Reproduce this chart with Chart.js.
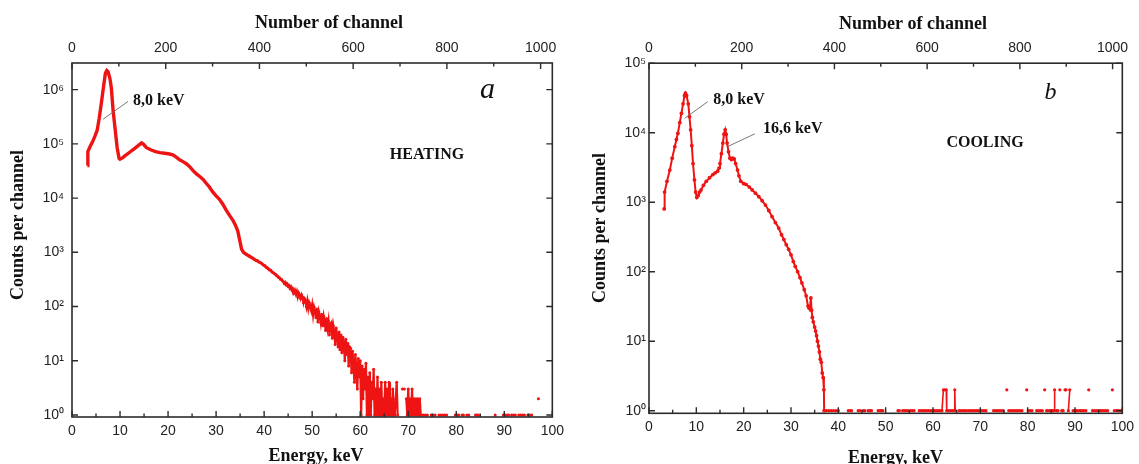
<!DOCTYPE html>
<html><head><meta charset="utf-8">
<script src="https://cdn.jsdelivr.net/npm/chart.js@4.4.1/dist/chart.umd.min.js"></script>
<style>
html,body{margin:0;padding:0;background:#fff;width:1139px;height:464px;overflow:hidden}
#wa{position:absolute;left:0;top:0;width:570px;height:464px}
#wb{position:absolute;left:570px;top:0;width:569px;height:464px}
</style></head><body>
<div id="wa"><canvas id="ca" width="570" height="464"></canvas></div>
<div id="wb"><canvas id="cb" width="569" height="464"></canvas></div>
<script>
// ---------- axis tick values / labels ----------
const energyMajor = [0,10,20,30,40,50,60,70,80,90,100];
const energyMinor = [5,15,25,35,45,55,65,75,85,95];
const channelMajor = [0,200,400,600,800,1000];
const channelMinor = [100,300,500,700,900];
const decadesA = [1,10,100,1000,10000,100000,1000000];
const decadeLabelsA = ['10\u2070','10\u00b9','10\u00b2','10\u00b3','10\u2074','10\u2075','10\u2076'];
const decadesB = [1,10,100,1000,10000,100000];
const decadeLabelsB = ['10\u2070','10\u00b9','10\u00b2','10\u00b3','10\u2074','10\u2075'];
const xTitle = 'Energy, keV';
const x2Title = 'Number of channel';
const yTitle = 'Counts per channel';

// ---------- (a) HEATING ----------
const heatSmoothE = [3.2,3.3,3.8,4.3,4.8,5.25,5.65,6.15,6.6,6.95,
  7.25,7.5,7.9,8.2,8.55,9.1,9.4,9.8,10.0,10.5,
  11.0,12.0,13.0,14.1,14.5,14.9,15.5,16.5,17.4,18.3,
  19.3,20.3,21.0,21.7,22.4,23.1,23.8,24.5,25.2,25.9,
  26.6,27.3,27.9,28.6,29.3,30.0,30.7,31.4,32.1,32.8,
  33.5,34.0,34.5,34.9,35.3,35.7,36.2,36.7,37.2,37.6,38.0];
const heatSmoothCounts = [40000,72000,90000,110000,140000,180000,290000,600000,1200000,2000000,
  2250000,2150000,1600000,1050000,420000,150000,85000,54000,52000,55000,
  60000,70000,82000,98000,104000,98000,85000,77000,72000,69000,
  67000,65000,63000,57000,51000,47000,43000,38000,32000,28000,
  25000,22000,19000,16000,13000,11000,9500,7700,6000,4800,
  3900,3200,2500,1700,1150,1000,930,870,820,780,740];
const heatTailE = [38.0,38.2,38.4,38.6,38.8,39.0,39.2,39.4,39.6,39.8,
  40.0,40.2,40.4,40.6,40.8,41.0,41.2,41.4,41.6,41.8,
  42.0,42.2,42.4,42.6,42.8,43.0,43.2,43.4,43.6,43.8,
  44.0,44.2,44.4,44.6,44.8,45.0,45.2,45.4,45.6,45.8,
  46.0,46.2,46.4,46.6,46.8,47.0,47.2,47.4,47.6,47.8,
  48.0,48.2,48.4,48.6,48.8,49.0,49.2,49.4,49.6,49.8,
  50.0,50.2,50.4,50.6,50.8,51.0,51.2,51.4,51.6,51.8,
  52.0,52.2,52.4,52.6,52.8,53.0,53.2,53.4,53.6,53.8,
  54.0,54.2,54.4,54.6,54.8,55.0,55.2,55.4,55.6,55.8,
  56.0,56.2,56.4,56.6,56.8,57.0,57.2,57.4,57.6,57.8,
  58.0,58.2,58.4,58.6,58.8,59.0,59.2,59.4,59.6,59.8,
  60.0,60.2,60.4,60.6,60.8,61.0,61.2,61.4,61.6,61.8,
  62.0,62.2,62.4,62.6,62.8,63.0,63.2,63.4,63.6,63.8,
  64.0,64.2,64.4,64.6,64.8,65.0,65.2,65.4,65.6,65.8,
  66.0,66.2,66.4,66.6,66.8,67.0,67.2,67.4,67.6,67.8,
  68.0,68.2,68.4,68.6,68.8,69.0,69.2,69.4,69.6,69.8,
  70.0,70.2,70.4,70.6,70.8,71.0,71.2,71.4,71.6,71.8,
  72.0,72.2,72.4,72.6,72.8,
  73.2,73.6,74.0,74.4,74.8,75.2,75.6,76.0,76.4,76.8,
  77.2,77.6,78.0,78.4,79.8,80.2,80.5,80.8,81.2,81.5,
  81.8,82.2,82.6,82.9,84.0,84.3,84.6,84.9,88.1,88.4,
  89.8,90.2,90.6,90.9,91.2,91.5,91.9,92.3,92.7,93.0,
  93.4,93.8,94.2,94.6,94.9,95.3,95.7,96.0,97.1];
const heatTailCounts = [740,725,700,705,670,660,640,635,610,590,
  570,565,530,525,500,490,470,465,440,425,
  415,400,395,370,365,345,340,320,318,300,
  290,265,280,250,262,235,245,215,232,205,
  212,180,200,170,192,150,178,160,140,165,
  150,118,140,130,100,128,92,118,105,85,
  108,70,98,84,62,90,52,80,66,50,
  72,44,66,52,36,60,40,54,30,46,
  50,26,44,34,20,40,28,18,34,16,
  30,14,27,20,10,25,13,21,8,18,
  17,6,15,9,4,13,7,3,11,5,
  10,1,8,2,7,3,9,1,5,1,
  6,1,4,2,7,1,3,1,5,1,
  3,1,4,1,2,1,4,1,3,1,
  4,1,2,1,3,1,1,2,4,1,
  null,null,null,null,3,null,3,null,2,1,
  3,1,2,1,3,1,2,1,2,1,
  2,1,2,1,1,
  1,1,1,null,1,1,1,null,1,1,
  1,1,1,null,1,1,1,null,1,1,
  null,1,1,null,1,1,1,null,1,null,
  1,1,1,1,null,1,1,1,null,1,
  1,1,1,null,1,1,1,null,2];

// ---------- (b) COOLING ----------
const coolE = [3.2,3.3,3.8,4.4,4.9,5.45,5.8,6.1,6.5,6.85,
  7.2,7.5,7.7,7.95,8.3,8.55,8.8,9.05,9.3,9.6,
  9.85,10.1,10.4,10.7,11.0,11.5,12.1,12.8,13.5,14.0,
  14.5,14.8,15.0,15.3,15.6,15.85,16.1,16.3,16.5,16.8,
  17.1,17.4,17.7,18.0,18.3,18.7,19.0,19.4,20.0,20.5,
  21.2,21.8,22.5,23.2,23.9,24.6,25.3,26.0,26.7,27.4,
  28.0,28.5,29.0,29.5,30.0,30.5,30.9,31.4,31.9,32.3,
  32.8,33.2,33.6,33.8,34.0,34.2,34.35,34.5,34.7,35.0,
  35.2,35.4,35.6,35.8,36.0,36.2,36.4,36.6,36.8,36.95,37.0];
const coolCounts = [800,1400,2000,2900,4300,6300,8000,9800,14000,19000,
  26000,34000,37000,34000,26000,17000,11000,6500,3600,2100,
  1400,1170,1250,1400,1500,1750,2000,2250,2500,2650,
  2800,3100,3600,5000,7100,9500,11000,9500,7100,5300,
  4300,4100,4300,4200,3600,2900,2400,2000,1850,1800,
  1650,1500,1350,1200,1050,910,760,620,510,425,
  340,290,245,210,175,140,119,100,82,69,
  55,45,32,30,30,42,28,22,19,16,
  14,12,10,8.5,7,5.5,5,3.5,3,2,1];
const coolTailE = [37.5,38.0,38.5,39.0,39.5,40.0,40.4,42.1,42.5,42.8,
  43.1,44.2,44.6,45.0,45.3,45.6,45.9,46.3,46.7,47.0,
  47.3,48.4,48.8,49.1,49.4,49.7,52.6,52.9,53.2,53.6,
  54.0,54.3,54.7,55.0,55.3,55.7,56.0,56.3,57.1,57.5,
  57.9,58.3,58.7,59.1,59.5,59.9,60.3,60.7,61.1,61.5,
  61.9,62.2,62.5,62.8,62.9,63.3,63.7,64.1,64.5,64.6,
  64.7,65.0,65.5,65.9,66.3,66.7,67.1,67.4,67.6,68.0,
  68.4,68.8,69.2,69.6,69.9,70.0,70.4,70.8,71.2,71.5,
  72.8,73.2,73.6,74.0,74.4,74.8,75.1,75.6,75.9,76.0,
  76.4,76.8,77.2,77.6,78.0,78.4,78.8,79.1,79.8,80.0,
  80.1,80.5,80.9,81.2,81.9,82.3,82.7,83.1,83.4,83.6,
  83.8,84.0,84.3,84.7,85.1,85.4,85.6,85.7,85.8,86.1,
  86.4,86.6,86.8,87.0,87.2,87.5,87.7,87.9,88.1,88.3,
  88.6,88.9,89.2,89.6,90.0,90.3,90.5,90.7,91.1,91.5,
  91.9,92.3,92.6,92.9,93.1,93.7,94.1,94.5,94.9,95.3,
  95.7,96.1,96.5,96.9,97.2,97.9,98.1,98.3,98.7,99.1,
  99.5,99.9];
const coolTailCounts = [1,1,1,1,1,1,null,1,1,1,
  null,1,1,null,1,1,null,1,1,1,
  null,1,1,1,1,null,1,1,null,1,
  1,1,1,null,1,1,1,null,1,1,
  1,1,1,1,1,1,1,1,1,1,
  1,2,2,2,1,1,1,1,1,2,
  1,null,1,1,1,1,1,null,1,1,
  1,1,1,1,null,1,1,1,1,null,
  1,1,1,1,1,1,null,2,null,1,
  1,1,1,1,1,1,1,null,2,null,
  1,1,1,null,1,1,1,1,null,2,
  null,1,1,1,1,1,1,2,null,1,
  1,null,2,null,1,1,null,2,2,null,
  1,2,null,1,1,1,null,1,1,1,
  1,1,null,2,null,1,1,1,1,1,
  1,1,1,1,null,2,null,1,1,1,
  1,1];

// ---------- helpers & styles ----------
const RED = '#ee1414';
const TICKFONT = {family:"'Liberation Sans', Arial, sans-serif", size:14};
const TICKCOL = '#222';
const TITLE_CSS = "bold 18px 'Liberation Serif', 'Times New Roman', serif";
const pts = (E, C) => E.map((e, i) => ({x: e, y: C[i]}));

const frameTicks = {
  id: 'frameTicks',
  afterDraw(chart, args, o) {
    const {ctx, chartArea: a, scales: s} = chart;
    ctx.save();
    ctx.strokeStyle = '#2b2b2b';
    ctx.lineWidth = 1.6;
    ctx.strokeRect(a.left, a.top, a.right - a.left, a.bottom - a.top);
    ctx.lineWidth = 1.4;
    ctx.beginPath();
    const seg = (x1, y1, x2, y2) => { ctx.moveTo(x1, y1); ctx.lineTo(x2, y2); };
    energyMajor.forEach(v => { const x = s.x.getPixelForValue(v); seg(x, a.bottom, x, a.bottom - 6); });
    energyMinor.forEach(v => { const x = s.x.getPixelForValue(v); seg(x, a.bottom, x, a.bottom - 3.5); });
    channelMajor.forEach(v => { const x = s.x2.getPixelForValue(v); seg(x, a.top, x, a.top + 6); });
    channelMinor.forEach(v => { const x = s.x2.getPixelForValue(v); seg(x, a.top, x, a.top + 3.5); });
    o.decades.forEach(v => { const y = s.y.getPixelForValue(v); seg(a.left, y, a.left + 6, y); seg(a.right, y, a.right - 6, y); });
    ctx.stroke();
    // leader lines
    ctx.strokeStyle = '#6a6a6a';
    ctx.lineWidth = 0.9;
    o.leaders.forEach(l => {
      ctx.beginPath();
      ctx.moveTo(s.x.getPixelForValue(l[0]), s.y.getPixelForValue(l[1]));
      ctx.lineTo(s.x.getPixelForValue(l[2]), s.y.getPixelForValue(l[3]));
      ctx.stroke();
    });
    // annotation texts
    ctx.fillStyle = '#111';
    ctx.textBaseline = 'alphabetic';
    o.labels.forEach(L => {
      ctx.font = L.font;
      ctx.textAlign = L.align;
      ctx.fillText(L.text, s.x.getPixelForValue(L.e), s.y.getPixelForValue(L.c));
    });
    // axis titles
    ctx.font = TITLE_CSS;
    ctx.textAlign = 'center';
    ctx.fillText(x2Title, o.topTitle[0], o.topTitle[1]);
    ctx.fillText(xTitle, o.bottomTitle[0], o.bottomTitle[1]);
    ctx.save();
    ctx.translate(o.leftTitle[0], o.leftTitle[1]);
    ctx.rotate(-Math.PI / 2);
    ctx.textBaseline = 'middle';
    ctx.fillText(yTitle, 0, 0);
    ctx.restore();
    ctx.restore();
  }
};

function makeChart(id, cfg) {
  return new Chart(document.getElementById(id), {
    type: 'line',
    data: {datasets: cfg.datasets},
    options: {
      responsive: false, animation: false, devicePixelRatio: 1,
      layout: {padding: {left: 0, right: cfg.padRight, top: 0, bottom: 0}},
      plugins: {legend: {display: false}, tooltip: {enabled: false}, frameTicks: cfg.frame},
      scales: {
        x: {
          type: 'linear', position: 'bottom', min: 0, max: 100,
          afterBuildTicks: sc => { sc.ticks = energyMajor.map(v => ({value: v})); },
          afterFit: sc => { sc.height = cfg.bottomH; },
          grid: {display: false, drawTicks: false}, border: {display: false},
          ticks: {padding: cfg.xPad, font: TICKFONT, color: TICKCOL, maxRotation: 0, autoSkip: false,
                  callback: v => String(v)}
        },
        x2: {
          type: 'linear', position: 'top', min: 0, max: cfg.chanMax,
          afterBuildTicks: sc => { sc.ticks = channelMajor.map(v => ({value: v})); },
          afterFit: sc => { sc.height = cfg.topH; },
          grid: {display: false, drawTicks: false}, border: {display: false},
          ticks: {padding: cfg.x2Pad, font: TICKFONT, color: TICKCOL, maxRotation: 0, autoSkip: false,
                  callback: v => String(v)}
        },
        y: {
          type: 'logarithmic', position: 'left', min: 0.918, max: cfg.yMax,
          afterBuildTicks: sc => { sc.ticks = cfg.decades.map(v => ({value: v})); },
          afterFit: sc => { sc.width = cfg.leftW; },
          grid: {display: false, drawTicks: false}, border: {display: false},
          ticks: {padding: cfg.yPad, font: TICKFONT, color: TICKCOL, autoSkip: false,
                  callback: (v, i) => cfg.decadeLabels[i]}
        }
      }
    },
    plugins: [frameTicks]
  });
}

makeChart('ca', {
  padRight: 16, bottomH: 47, topH: 63, leftW: 72, chanMax: 1025, yMax: 3.1e6,
  xPad: 6, x2Pad: 6, yPad: 8,
  decades: decadesA, decadeLabels: decadeLabelsA,
  datasets: [
    {data: pts(heatSmoothE, heatSmoothCounts), borderColor: RED, borderWidth: 3.4, pointRadius: 0},
    {data: pts(heatTailE, heatTailCounts), borderColor: RED, borderWidth: 2.2, pointRadius: 1.5,
     pointBackgroundColor: RED, pointBorderWidth: 0, spanGaps: false}
  ],
  frame: {
    decades: decadesA,
    leaders: [[11.68, 6.07e5, 6.49, 2.86e5]],
    labels: [
      {text: '8,0 keV', e: 12.7, c: 5.27e5, align: 'left', font: "bold 16px 'Liberation Serif', serif"},
      {text: 'HEATING', e: 73.9, c: 5.2e4, align: 'center', font: "bold 16px 'Liberation Serif', serif"},
      {text: 'a', e: 86.5, c: 6.9e5, align: 'center', font: "italic 30px 'Liberation Serif', serif"}
    ],
    topTitle: [329, 28], bottomTitle: [316, 461], leftTitle: [18, 225]
  }
});

makeChart('cb', {
  padRight: 12.5, bottomH: 50.7, topH: 63.2, leftW: 79, chanMax: 1021, yMax: 1e5,
  xPad: 5, x2Pad: 7, yPad: 3,
  decades: decadesB, decadeLabels: decadeLabelsB,
  datasets: [
    {data: pts(coolE, coolCounts), borderColor: RED, borderWidth: 2, pointRadius: 1.9,
     pointBackgroundColor: RED, pointBorderWidth: 0},
    {data: pts(coolTailE, coolTailCounts), borderColor: RED, borderWidth: 1.6, pointRadius: 1.6,
     pointBackgroundColor: RED, pointBorderWidth: 0, spanGaps: false}
  ],
  frame: {
    decades: decadesB,
    leaders: [[12.42, 2.8e4, 7.54, 1.61e4], [22.35, 9620, 16.6, 6310]],
    labels: [
      {text: '8,0 keV', e: 13.6, c: 2.59e4, align: 'left', font: "bold 16px 'Liberation Serif', serif"},
      {text: '16,6 keV', e: 24.08, c: 9840, align: 'left', font: "bold 16px 'Liberation Serif', serif"},
      {text: 'COOLING', e: 71.0, c: 6250, align: 'center', font: "bold 16px 'Liberation Serif', serif"},
      {text: 'b', e: 84.8, c: 3.03e4, align: 'center', font: "italic 24px 'Liberation Serif', serif"}
    ],
    topTitle: [343, 29], bottomTitle: [325.5, 463], leftTitle: [30, 228]
  }
});
</script>
</body></html>
